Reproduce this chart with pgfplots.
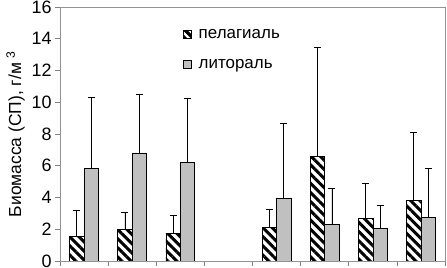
\documentclass[border=0pt]{standalone}
\usepackage{fontspec}
\setmainfont{Liberation Sans}
\usepackage{pgfplots}
\pgfplotsset{compat=1.18}
\usetikzlibrary{patterns.meta}
\begin{document}
\begin{tikzpicture}
\begin{axis}[
  at={(60bp,7bp)}, anchor=south west,
  width=385bp, height=254bp, scale only axis,
  xmin=-0.5, xmax=7.5, ymin=0, ymax=16,
  xtick={-0.5,0.5,...,7.5}, xticklabels={},
  ytick={0,2,...,16},
  tick align=outside, major tick length=5bp,
  tick style={gray, line width=0.6bp},
  axis line style={gray!85, line width=0.8bp},
  tick pos=left,
  ticklabel style={font=\fontsize{18}{20}\selectfont},
  /pgf/number format/assume math mode=true,
  ylabel={Биомасса (СП), г/м \textsuperscript{3}},
  ylabel style={font=\fontsize{17.5}{19}\selectfont},
  legend style={at={(0.317,0.932)}, anchor=north west, draw=none, fill=none,
    font=\fontsize{17}{19}\selectfont, row sep=10bp, inner sep=0pt,
    nodes={text height=12bp, text depth=4bp},
    /tikz/every odd column/.append style={column sep=4bp}},
  legend cell align=left,
]
\draw[black, line width=0.8bp] (axis cs:-0.5,0) -- (axis cs:7.5,0);
\addplot[ybar, bar width=0.3, bar shift=0pt, draw=black, line width=0.6bp, fill=white,
  postaction={pattern={Lines[angle=-45,distance=6.5bp,line width=3bp]}},
  legend image code/.code={\draw[black, line width=0.6bp, fill=white, postaction={pattern={Lines[angle=-45,distance=6bp,line width=3bp]}}] (0bp,-3.75bp) rectangle (7.5bp,3.75bp);},
  error bars/.cd, y dir=plus, y explicit,
  error bar style={black, line width=0.7bp},
  error mark options={rotate=90, black, mark size=3.5bp, line width=0.7bp}]
coordinates {
(-0.15,1.53) +- (0,1.63)
(0.85,1.99) +- (0,1.05)
(1.85,1.74) +- (0,1.11)
(3.85,2.12) +- (0,1.13)
(4.85,6.60) +- (0,6.84)
(5.85,2.68) +- (0,2.24)
(6.85,3.82) +- (0,4.31)
};
\addlegendentry{пелагиаль}
\addplot[ybar, bar width=0.3, bar shift=0pt, draw=black, line width=0.6bp, fill={rgb,255:red,192;green,192;blue,192},
  legend image code/.code={\draw[black, line width=0.6bp, fill={rgb,255:red,192;green,192;blue,192}] (0bp,-3.75bp) rectangle (7.5bp,3.75bp);},
  error bars/.cd, y dir=plus, y explicit,
  error bar style={black, line width=0.7bp},
  error mark options={rotate=90, black, mark size=3.5bp, line width=0.7bp}]
coordinates {
(0.15,5.83) +- (0,4.50)
(1.15,6.81) +- (0,3.69)
(2.15,6.21) +- (0,4.06)
(4.15,3.94) +- (0,4.76)
(5.15,2.31) +- (0,2.24)
(6.15,2.06) +- (0,1.42)
(7.15,2.75) +- (0,3.08)
};
\addlegendentry{литораль}
\end{axis}
\pgfresetboundingbox
\path[use as bounding box] (0,0) rectangle (447bp,268bp);
\end{tikzpicture}
\end{document}
